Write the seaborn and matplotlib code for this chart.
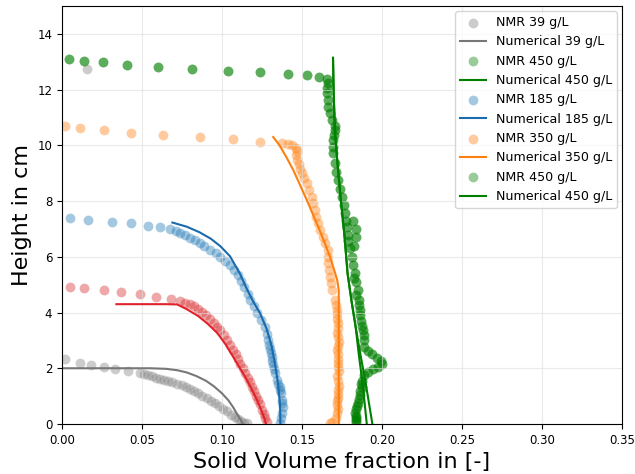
import numpy as np
import pandas as pd
import matplotlib
matplotlib.use("Agg")
import matplotlib.pyplot as plt
import seaborn as sns

# ---------------- data ----------------
# NMR 39 g/L (gray)
nmr39_x = [0.002, 0.011, 0.018, 0.026, 0.033, 0.041, 0.049, 0.0515, 0.054, 0.0565,
           0.059, 0.0615, 0.064, 0.0665, 0.069, 0.072, 0.075, 0.0775, 0.080, 0.0825,
           0.085, 0.0875, 0.0905, 0.093, 0.0955, 0.098, 0.1005, 0.103, 0.1055, 0.108,
           0.110, 0.112, 0.114, 0.1156,
           0.0156, -0.003, -0.003, -0.003, -0.003, -0.003, -0.003, -0.003, -0.003, -0.003]
nmr39_y = [2.33, 2.19, 2.12, 2.05, 1.97, 1.90, 1.83, 1.80, 1.76, 1.71,
           1.66, 1.62, 1.58, 1.54, 1.50, 1.45, 1.39, 1.33, 1.26, 1.19,
           1.11, 1.02, 0.93, 0.84, 0.75, 0.65, 0.55, 0.45, 0.34, 0.25,
           0.17, 0.10, 0.05, 0.02,
           12.74, 11.45, 11.6, 11.75, 11.9, 12.05, 3.4, 3.5, 3.6, 3.7]
num39_x = [0.0, 0.02, 0.04, 0.055, 0.065, 0.072, 0.078, 0.084, 0.090, 0.095,
           0.100, 0.104, 0.107, 0.110, 0.112, 0.113]
num39_y = [2.0, 2.0, 2.0, 2.0, 1.98, 1.93, 1.85, 1.72, 1.55, 1.35,
           1.10, 0.85, 0.60, 0.30, 0.12, 0.0]

# unlabeled red series
nmr_red_x = [0.005, 0.014, 0.026, 0.037, 0.049, 0.059, 0.068, 0.074, 0.077, 0.080,
             0.0825, 0.085, 0.0875, 0.090, 0.0925, 0.095, 0.097, 0.099, 0.101, 0.103,
             0.105, 0.107, 0.1085, 0.110, 0.1115, 0.113, 0.1145, 0.116, 0.1175, 0.119,
             0.120, 0.1213, 0.1225, 0.1238, 0.125, 0.126, 0.127, 0.128]
nmr_red_y = [4.93, 4.88, 4.80, 4.73, 4.66, 4.57, 4.49, 4.40, 4.35, 4.29,
             4.22, 4.13, 4.02, 3.90, 3.76, 3.62, 3.49, 3.37, 3.20, 3.03,
             2.85, 2.66, 2.50, 2.34, 2.17, 2.00, 1.83, 1.66, 1.50, 1.33,
             1.18, 1.02, 0.86, 0.70, 0.52, 0.36, 0.20, 0.06]
num_red_x = [0.034, 0.050, 0.065, 0.072, 0.078, 0.085, 0.091, 0.097, 0.102, 0.107,
             0.1115, 0.1156, 0.119, 0.122, 0.1245, 0.1265, 0.1275]
num_red_y = [4.30, 4.30, 4.30, 4.29, 4.12, 3.88, 3.60, 3.27, 2.88, 2.41,
             1.98, 1.58, 1.20, 0.85, 0.50, 0.20, 0.0]

# NMR 185 g/L (blue)
nmr185_x = [0.005, 0.016, 0.031, 0.043, 0.054, 0.061, 0.0675, 0.071, 0.074, 0.077,
            0.080, 0.083, 0.086, 0.089, 0.0925, 0.096, 0.099, 0.102, 0.105, 0.1075,
            0.110, 0.112, 0.114, 0.116, 0.1175, 0.1198, 0.122, 0.1245, 0.127, 0.128,
            0.129, 0.130, 0.131, 0.132, 0.133, 0.1345, 0.136, 0.137, 0.1375, 0.138,
            0.1375, 0.137, 0.136, 0.1295, 0.1305, 0.1315, 0.1325, 0.135, 0.1365, 0.1378]
nmr185_y = [7.39, 7.32, 7.26, 7.20, 7.10, 7.06, 6.98, 6.92, 6.85, 6.77,
            6.68, 6.59, 6.50, 6.38, 6.25, 6.12, 6.00, 5.85, 5.70, 5.53,
            5.35, 5.14, 4.92, 4.68, 4.45, 4.22, 4.00, 3.74, 3.48, 3.24,
            3.00, 2.70, 2.41, 2.12, 1.83, 1.58, 1.33, 1.10, 0.86, 0.61,
            0.40, 0.20, 0.04, 2.85, 2.55, 2.27, 1.97, 1.45, 1.22, 0.74]
num185_x = [0.069, 0.078, 0.086, 0.093, 0.099, 0.105, 0.111, 0.1155, 0.119, 0.124,
            0.128, 0.131, 0.133, 0.135, 0.1363, 0.1365]
num185_y = [7.23, 7.08, 6.88, 6.65, 6.38, 6.02, 5.42, 4.85, 4.45, 3.95,
            3.40, 2.80, 2.20, 1.47, 0.70, 0.0]

# NMR 350 g/L (orange)
nmr350_x = [0.002, 0.011, 0.026, 0.043, 0.063, 0.086, 0.107, 0.124, 0.1375, 0.141,
            0.144, 0.146, 0.147, 0.1465, 0.147, 0.148, 0.149, 0.150, 0.1515, 0.153,
            0.1545, 0.156, 0.157, 0.158, 0.159, 0.160, 0.1615, 0.163, 0.1645, 0.166,
            0.166, 0.1665, 0.167, 0.1675, 0.168, 0.169, 0.1705, 0.172, 0.172, 0.1725,
            0.1725, 0.1725, 0.1725, 0.1725, 0.173, 0.1725, 0.1725, 0.1725, 0.172, 0.172,
            0.171, 0.169, 0.1675,
            0.171, 0.172, 0.1725, 0.172, 0.173, 0.172, 0.1725, 0.1725, 0.172, 0.173,
            0.1725, 0.172, 0.1725]
nmr350_y = [10.70, 10.62, 10.55, 10.45, 10.37, 10.30, 10.23, 10.12, 10.08, 10.04,
            10.00, 9.92, 9.80, 9.65, 9.48, 9.32, 9.16, 9.00, 8.82, 8.65,
            8.40, 8.15, 7.92, 7.68, 7.44, 7.20, 6.95, 6.70, 6.48, 6.25,
            6.00, 5.78, 5.53, 5.28, 5.05, 4.81, 4.45, 4.09, 3.78, 3.45,
            3.12, 2.80, 2.50, 2.19, 1.90, 1.55, 1.22, 0.95, 0.68, 0.40,
            0.20, 0.07, 0.03,
            4.27, 3.93, 3.62, 3.28, 2.96, 2.65, 2.35, 2.05, 1.72, 1.38,
            1.08, 0.82, 0.54]
num350_x = [0.132, 0.136, 0.1405, 0.1445, 0.149, 0.153, 0.157, 0.161, 0.1645, 0.1675,
            0.170, 0.172, 0.173, 0.173]
num350_y = [10.3, 10.0, 9.55, 9.12, 8.55, 8.04, 7.50, 6.96, 6.45, 6.00,
            5.55, 5.17, 4.80, 0.0]

# NMR 450 g/L (green)
nmr450_x = [0.0044, 0.0138, 0.0256, 0.0406, 0.060, 0.081, 0.104, 0.124, 0.141, 0.153,
            0.1606, 0.1656, 0.166, 0.1656, 0.1656, 0.166, 0.166, 0.1675, 0.1688, 0.1706,
            0.1706, 0.170, 0.1694, 0.1694, 0.1694, 0.1706, 0.1715, 0.1725, 0.174, 0.175,
            0.176, 0.177, 0.1775, 0.178, 0.1785, 0.179, 0.180, 0.182, 0.1835, 0.1835,
            0.1825, 0.181, 0.182, 0.183, 0.1835, 0.185, 0.1855, 0.186, 0.187, 0.188,
            0.191, 0.194, 0.197, 0.1995, 0.200, 0.1975, 0.1945, 0.191, 0.1885, 0.1875,
            0.1875, 0.1865, 0.185, 0.184, 0.183, 0.1835, 0.184,
            0.1825, 0.184, 0.1855, 0.1865, 0.1875, 0.1885, 0.189, 0.1885, 0.187, 0.186,
            0.1855, 0.1845, 0.1835, 0.1835]
nmr450_y = [13.10, 13.03, 12.99, 12.89, 12.81, 12.74, 12.67, 12.63, 12.56, 12.53,
            12.45, 12.38, 12.25, 12.05, 11.88, 11.63, 11.38, 11.15, 10.90, 10.70,
            10.55, 10.38, 10.20, 9.95, 9.73, 9.37, 9.05, 8.76, 8.45, 8.15,
            7.85, 7.57, 7.30, 7.07, 6.80, 6.55, 6.30, 7.30, 7.00, 6.70,
            6.40, 6.00, 5.70, 5.42, 5.10, 4.81, 4.45, 4.09, 3.70, 3.37,
            2.62, 2.50, 2.38, 2.25, 2.15, 2.05, 1.97, 1.88, 1.75, 1.55,
            1.33, 1.05, 0.75, 0.55, 0.40, 0.22, 0.08,
            5.25, 4.63, 4.27, 3.90, 3.53, 3.20, 3.00, 2.76, 1.45, 1.20,
            0.90, 0.65, 0.30, 0.15]
num450_x = [0.1694, 0.1698, 0.1706, 0.172, 0.174, 0.1765, 0.1785, 0.181, 0.1835, 0.1865,
            0.190, 0.194]
num450_y = [13.14, 11.9, 10.5, 9.48, 8.2, 6.8, 5.4, 4.4, 3.5, 2.5,
            1.4, 0.0]
num450b_x = [0.1694, 0.1698, 0.1706, 0.172, 0.174, 0.1765, 0.1785, 0.181, 0.1835, 0.1855,
             0.188, 0.1905]
num450b_y = [13.14, 11.9, 10.5, 9.48, 8.2, 6.8, 5.4, 4.4, 3.5, 2.5,
             1.4, 0.0]

x_ticks = [0.00, 0.05, 0.10, 0.15, 0.20, 0.25, 0.30, 0.35]
y_ticks = [0, 2, 4, 6, 8, 10, 12, 14]

# ---------------- plot ----------------
fig, ax = plt.subplots(figsize=(6.35, 4.74), dpi=100)
fig.subplots_adjust(left=0.0976, right=0.9795, top=0.9873, bottom=0.1055)

PT_S = 50
PT_A = 0.4


def pts(x, y, color, label=None):
    sns.scatterplot(x=x, y=y, color=color, alpha=PT_A, s=PT_S, linewidth=0,
                    label=label, ax=ax, legend=False if label is None else "auto")


def line(x, y, color, label=None):
    sns.lineplot(x=x, y=y, color=color, lw=1.5, sort=False, estimator=None,
                 label=label, ax=ax, legend=False if label is None else "auto")


# unlabeled red series
pts(nmr_red_x, nmr_red_y, "#d62728")
line(num_red_x, num_red_y, "#e0222a")

pts(nmr39_x, nmr39_y, "gray", "NMR 39 g/L")
line(num39_x, num39_y, "#777777", "Numerical 39 g/L")
pts(nmr450_x, nmr450_y, "green", "NMR 450 g/L")
line(num450_x, num450_y, "green", "Numerical 450 g/L")
pts(nmr185_x, nmr185_y, "#1f77b4", "NMR 185 g/L")
line(num185_x, num185_y, "#1a6aae", "Numerical 185 g/L")
pts(nmr350_x, nmr350_y, "#ff7f0e", "NMR 350 g/L")
line(num350_x, num350_y, "#ff7f0e", "Numerical 350 g/L")
pts(nmr450_x, nmr450_y, "green", "NMR 450 g/L")
line(num450b_x, num450b_y, "green", "Numerical 450 g/L")

ax.set_xlim(0, 0.35)
ax.set_ylim(0, 15)
ax.set_xticks(x_ticks)
ax.set_xticklabels([f"{v:.2f}" for v in x_ticks])
ax.set_yticks(y_ticks)
ax.tick_params(labelsize=8.5)
ax.grid(True, color="#dddddd", linewidth=0.8, alpha=0.6)
ax.set_xlabel("Solid Volume fraction in [-]", fontsize=16)
ax.set_ylabel("Height in cm", fontsize=16)
ax.legend(loc="upper right", fontsize=9.1, framealpha=0.8, borderaxespad=0.4)

fig.savefig("out.png", dpi=100)
